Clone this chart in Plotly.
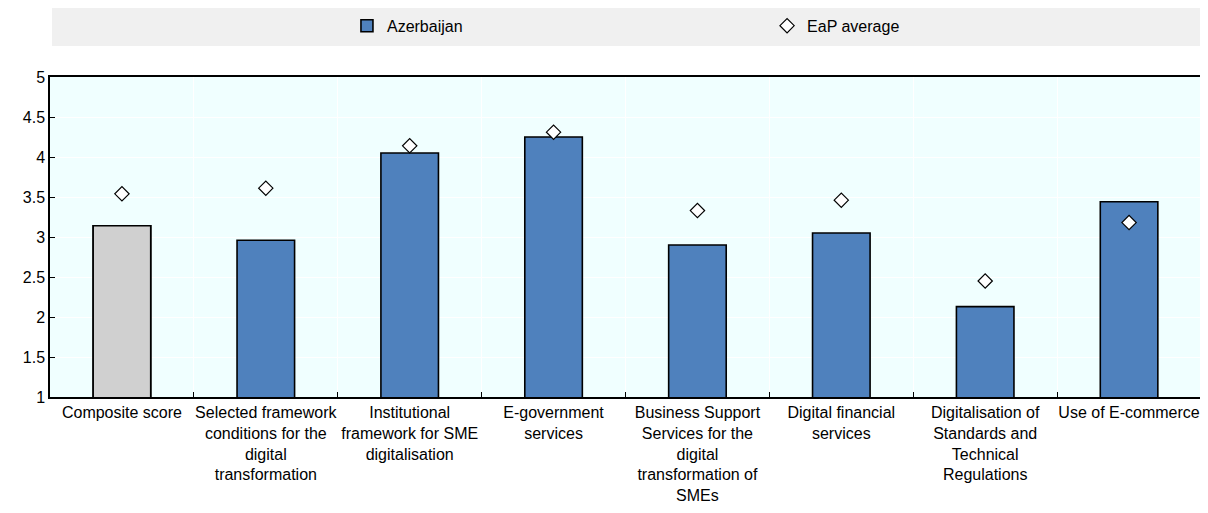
import plotly.graph_objects as go

categories = [
    "Composite score",
    "Selected framework<br>conditions for the<br>digital<br>transformation",
    "Institutional<br>framework for SME<br>digitalisation",
    "E-government<br>services",
    "Business Support<br>Services for the<br>digital<br>transformation of<br>SMEs",
    "Digital financial<br>services",
    "Digitalisation of<br>Standards and<br>Technical<br>Regulations",
    "Use of E-commerce",
]
azerbaijan = [3.14, 2.96, 4.05, 4.25, 2.90, 3.05, 2.13, 3.44]
eap_average = [3.54, 3.61, 4.14, 4.31, 3.33, 3.46, 2.45, 3.18]

FONT = "Liberation Sans Narrow, Arial Narrow, Liberation Sans, Arial, sans-serif"

fig = go.Figure()
fig.add_trace(go.Bar(
    x=categories, y=azerbaijan, name="Azerbaijan",
    marker=dict(color="#4F81BD", line=dict(color="black", width=1.6)),
    width=0.4, legend="legend",
))
# composite score drawn again in grey on top
fig.add_trace(go.Bar(
    x=categories[:1], y=azerbaijan[:1], showlegend=False,
    marker=dict(color="#D0D0D0", line=dict(color="black", width=1.6)),
    width=0.4,
))
fig.add_trace(go.Scatter(
    x=categories, y=eap_average, name="EaP average", mode="markers",
    marker=dict(symbol="diamond", size=11, color="white",
                line=dict(color="black", width=1.2)),
    legend="legend2",
))

# grey legend band across the top
fig.add_shape(type="rect", xref="paper", yref="paper",
              x0=0.0017, x1=1.01, y0=1.097, y1=1.222,
              fillcolor="#F0F0F0", line=dict(width=0), layer="below")

leg = dict(orientation="h", xanchor="left", y=1.16, yanchor="middle",
           bgcolor="rgba(0,0,0,0)", itemwidth=30, font=dict(size=16))

# page has an 8px body margin, so the figure is 8px smaller than the window
fig.update_layout(
    width=1200, height=505,
    margin=dict(l=42, r=7, t=69, b=116, autoexpand=False),
    paper_bgcolor="white", plot_bgcolor="#F0FFFF",
    font=dict(family=FONT, size=16, color="black"),
    showlegend=True,
    legend=dict(leg, x=0.258),
    legend2=dict(leg, x=0.623),
    barmode="overlay",
)
fig.update_xaxes(
    type="category", tickson="boundaries", ticks="inside", ticklen=5,
    tickcolor="black", showgrid=True, gridcolor="white", gridwidth=1,
    showline=True, linecolor="black", linewidth=1.5, mirror=True,
    tickangle=0,
)
fig.update_yaxes(
    range=[1, 5], dtick=0.5, ticks="inside", ticklen=5, tickcolor="black",
    showgrid=True, gridcolor="white", gridwidth=1,
    showline=True, linecolor="black", linewidth=1.5, mirror=True,
    zeroline=False,
)

fig.write_html("out.html")
